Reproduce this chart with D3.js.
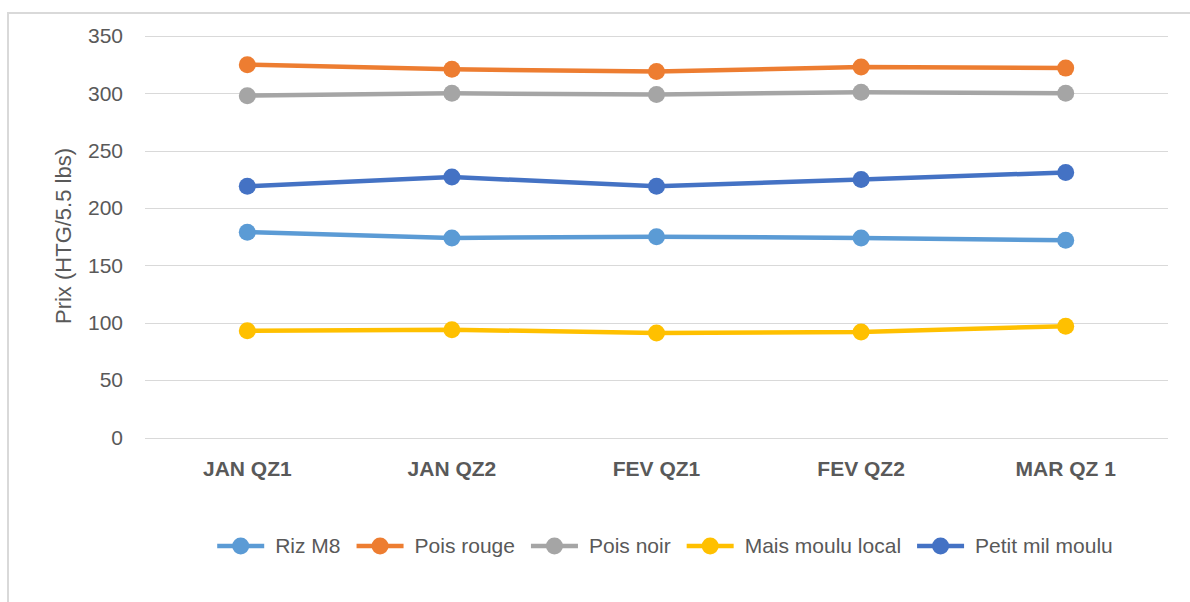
<!DOCTYPE html>
<html>
<head>
<meta charset="utf-8">
<script src="https://cdn.jsdelivr.net/npm/d3@7"></script>
<style>
  body { margin: 0; background: #fff; }
  svg { display: block; font-family: "Liberation Sans", Arial, sans-serif; }
</style>
</head>
<body>
<svg id="chart" width="1190" height="602"></svg>
<script>
// Data
const categories = ["JAN QZ1", "JAN QZ2", "FEV QZ1", "FEV QZ2", "MAR QZ 1"];
const seriesNames = ["Riz M8", "Pois rouge", "Pois noir", "Mais moulu local", "Petit mil moulu"];
const rizM8 = [179, 174, 175, 174, 172];
const poisRouge = [325, 321, 319, 323, 322];
const poisNoir = [298, 300, 299, 301, 300];
const maisMoulu = [93, 94, 91, 92, 97];
const petitMil = [219, 227, 219, 225, 231];
const yTicks = [0, 50, 100, 150, 200, 250, 300, 350];

const colors = ["#5B9BD5", "#ED7D31", "#A5A5A5", "#FFC000", "#4472C4"];
const series = [rizM8, poisRouge, poisNoir, maisMoulu, petitMil].map((v, i) => ({
    name: seriesNames[i], values: v, color: colors[i]
}));

const svg = d3.select("#chart");

// Chart frame (continues past the right and bottom edges)
svg.append("rect")
    .attr("x", 8).attr("y", 13)
    .attr("width", 1200).attr("height", 620)
    .attr("fill", "none")
    .attr("stroke", "#d9d9d9")
    .attr("stroke-width", 2);

const margin = { left: 145, right: 1168, top: 36, bottom: 437.5 };

const x = d3.scaleBand()
    .domain(categories)
    .range([margin.left, margin.right]);

const y = d3.scaleLinear()
    .domain([0, 350])
    .range([margin.bottom, margin.top]);

// Gridlines
svg.append("g")
    .selectAll("line")
    .data(yTicks)
    .join("line")
    .attr("x1", margin.left).attr("x2", margin.right)
    .attr("y1", d => Math.round(y(d)) + 0.5)
    .attr("y2", d => Math.round(y(d)) + 0.5)
    .attr("stroke", "#d9d9d9")
    .attr("stroke-width", 1);

// Y axis labels
const yAxis = svg.append("g")
    .attr("transform", `translate(${margin.left - 22},0)`)
    .call(d3.axisLeft(y).tickValues(yTicks).tickSize(0).tickPadding(0));
yAxis.select(".domain").remove();
yAxis.selectAll("text")
    .attr("fill", "#595959")
    .style("font-size", "21px")
    .style("font-family", "Liberation Sans, Arial, sans-serif");

// X axis labels
const xAxis = svg.append("g")
    .attr("transform", `translate(0,${margin.bottom + 24})`)
    .call(d3.axisBottom(x).tickSize(0).tickPadding(0));
xAxis.select(".domain").remove();
xAxis.selectAll("text")
    .attr("fill", "#595959")
    .attr("dy", "0.71em")
    .style("font-size", "21px")
    .style("font-weight", "bold")
    .style("font-family", "Liberation Sans, Arial, sans-serif");

// Y axis title
svg.append("text")
    .attr("transform", "translate(71,236) rotate(-90)")
    .attr("text-anchor", "middle")
    .attr("fill", "#595959")
    .style("font-size", "22px")
    .text("Prix (HTG/5.5 lbs)");

// Lines
const line = d3.line()
    .x((d, i) => x(categories[i]) + x.bandwidth() / 2)
    .y(d => y(d));

const groups = svg.append("g")
    .selectAll("g")
    .data(series)
    .join("g");

groups.append("path")
    .attr("d", d => line(d.values))
    .attr("fill", "none")
    .attr("stroke", d => d.color)
    .attr("stroke-width", 4.5)
    .attr("stroke-linejoin", "round");

groups.selectAll("circle")
    .data(d => d.values.map((v, i) => ({ v, i, color: d.color })))
    .join("circle")
    .attr("cx", d => x(categories[d.i]) + x.bandwidth() / 2)
    .attr("cy", d => y(d.v))
    .attr("r", 8.5)
    .attr("fill", d => d.color);

// Legend
const legend = svg.append("g").attr("transform", "translate(0,546)");
const items = legend.selectAll("g")
    .data(series)
    .join("g");

items.append("line")
    .attr("x1", 0).attr("x2", 47)
    .attr("stroke", d => d.color)
    .attr("stroke-width", 4.5);
items.append("circle")
    .attr("cx", 23.5)
    .attr("r", 8.5)
    .attr("fill", d => d.color);
items.append("text")
    .attr("x", 58)
    .attr("dy", "0.35em")
    .attr("fill", "#595959")
    .style("font-size", "21px")
    .text(d => d.name);

// lay out legend items side by side, centred
let offset = 0;
const widths = [];
items.each(function () {
    widths.push(this.getBBox().width);
});
const gap = 16;
const total = d3.sum(widths) + gap * (widths.length - 1);
const start = 665 - total / 2;
items.attr("transform", (d, i) => {
    const tx = start + offset;
    offset += widths[i] + gap;
    return `translate(${tx},0)`;
});
</script>
</body>
</html>
